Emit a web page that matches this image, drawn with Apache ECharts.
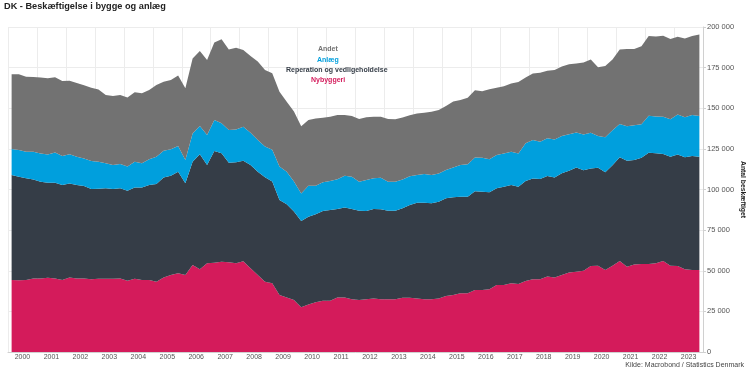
<!DOCTYPE html>
<html>
<head>
<meta charset="utf-8">
<script src="https://cdn.jsdelivr.net/npm/echarts@6/dist/echarts.min.js"></script>
<style>
  html, body { margin: 0; padding: 0; background: #fff; }
  #chart { width: 750px; height: 375px; }
</style>
</head>
<body>
<div id="chart"></div>
<script>
// år og kvartaler
const years = [2000, 2001, 2002, 2003, 2004, 2005, 2006, 2007, 2008, 2009, 2010, 2011,
  2012, 2013, 2014, 2015, 2016, 2017, 2018, 2019, 2020, 2021, 2022, 2023];
const quarterNames = ["K1", "K2", "K3", "K4"];

// beskæftigede pr. kvartal
const nybyggeri = [
  44300, 44100, 44300, 45300, 45300, 45700, 45300, 44300, 45900, 45300, 45300, 44700,
  45100, 45100, 45100, 45300, 43900, 45100, 44300, 44300, 43300, 45900, 47400, 48400,
  47400, 53500, 50900, 54600, 55000, 55600, 55200, 54600, 55800, 51500, 47400, 43300,
  42300, 35100, 33600, 32000, 27500, 29300, 30600, 31600, 31600, 33600, 33600, 32400,
  32000, 32400, 33000, 32400, 32400, 32400, 33400, 33400, 33000, 32400, 32400, 33000,
  34500, 35100, 36100, 36100, 38100, 38100, 38600, 41200, 41200, 42300, 41800, 43700,
  44700, 44700, 46400, 45900, 47400, 49000, 49400, 50000, 52900, 53100, 50500, 53100,
  56000, 52500, 53900, 54100, 54100, 54600, 56000, 53100, 52900, 50900, 50500, 50500
];
const reparation = [
  64600, 63800, 62600, 60900, 59500, 58500, 58900, 58500, 57800, 57400, 56800, 55600,
  55400, 55600, 55200, 55400, 55400, 56200, 57000, 58500, 60100, 61500, 61100, 62600,
  56400, 63600, 70800, 60500, 68700, 66700, 61300, 62100, 61900, 63600, 63600, 64200,
  62600, 58500, 57400, 54400, 53100, 53900, 54100, 55200, 55800, 54400, 55400, 55600,
  55000, 54400, 55000, 55400, 54600, 54600, 55000, 57000, 58900, 59500, 59100, 59500,
  60100, 60100, 59500, 59500, 60900, 60500, 59700, 59500, 60500, 60500, 59900, 61500,
  62100, 61700, 61900, 61500, 62600, 62600, 64200, 61900, 60100, 60300, 60100, 61900,
  63800, 65200, 64200, 65400, 68500, 67700, 65800, 67100, 68700, 68900, 70100, 69700
];
const anlaeg = [
  16000, 16400, 16400, 17000, 17400, 17400, 18500, 17800, 18000, 17400, 17000, 17200,
  16600, 15400, 14800, 15000, 14800, 15800, 14800, 15800, 16800, 16400, 16200, 15800,
  14400, 17400, 17400, 18500, 19100, 18500, 20100, 20300, 20900, 19900, 19500, 18900,
  19500, 20500, 19900, 18500, 17000, 19100, 17600, 17600, 17800, 18300, 19500, 19900,
  17800, 19100, 18900, 19500, 17800, 17800, 17800, 17800, 17000, 17600, 17400, 17400,
  17400, 18300, 19500, 19900, 20700, 20900, 20300, 20500, 20500, 20500, 20500, 23200,
  23600, 23000, 23200, 23400, 23000, 22400, 21500, 21900, 21900, 19500, 21500, 21500,
  20500, 21300, 21500, 20700, 22800, 22600, 23000, 23000, 24600, 24600, 25200, 25000
];
const andet = [
  46100, 46600, 46100, 46100, 46800, 46800, 46400, 46100, 45300, 45500, 45100, 45100,
  44500, 42000, 42500, 42500, 42500, 42700, 43100, 42700, 44100, 42500, 42700, 43300,
  44100, 46100, 46100, 46100, 47600, 51700, 49600, 50200, 47200, 47200, 48200, 47200,
  47200, 46100, 43100, 43100, 41400, 40400, 41400, 39800, 39600, 39600, 37300, 37300,
  38600, 38600, 37900, 37500, 38600, 38400, 38100, 37500, 37900, 37700, 39000, 39000,
  39400, 40600, 40000, 41000, 41400, 41000, 43100, 41400, 41400, 42000, 43900, 40600,
  41000, 42500, 41600, 42700, 42700, 43100, 42500, 44300, 45100, 42300, 43900, 43500,
  45900, 47400, 46800, 48000, 49000, 49200, 49800, 49400, 47800, 48600, 48600, 50200
];

const quarters = years.flatMap((y) => quarterNames.map((q) => y + " " + q));

const FONT = "Liberation Sans, Arial, sans-serif";
const colors = {
  nybyggeri: "#d41b5b",
  reparation: "#353d47",
  anlaeg: "#009fdd",
  andet: "#727272",
};

// tusindtalsseparator med mellemrum
function fmt(v) {
  return String(v).replace(/\B(?=(\d{3})+(?!\d))/g, " ");
}

function areaSeries(name, data, color) {
  return {
    name: name,
    type: "line",
    stack: "total",
    data: data,
    showSymbol: false,
    symbol: "none",
    lineStyle: { width: 0 },
    areaStyle: { color: color, opacity: 1 },
    itemStyle: { color: color },
    emphasis: { disabled: true },
  };
}

function legendItem(name, color, left, top) {
  return {
    data: [name],
    left: left,
    top: top,
    padding: 0,
    icon: "none",
    itemWidth: 0,
    itemHeight: 7,
    textStyle: { color: color, fontSize: 7, fontWeight: "bold", fontFamily: FONT },
  };
}

const chart = echarts.init(document.getElementById("chart"), null, { renderer: "canvas" });

const option = {
  backgroundColor: "#fff",
  animation: false,
  title: [
    {
      text: "DK - Beskæftigelse i bygge og anlæg",
      left: 4,
      top: 2,
      padding: 0,
      textStyle: { fontSize: 9.2, fontWeight: "bold", color: "#222", fontFamily: FONT },
    },
    {
      text: "Kilde: Macrobond / Statistics Denmark",
      right: 6,
      top: 362,
      padding: 0,
      textStyle: { fontSize: 7, fontWeight: "normal", color: "#444", fontFamily: FONT },
    },
  ],
  legend: [
    legendItem("Andet", colors.andet, 313, 46),
    legendItem("Anlæg", colors.anlaeg, 312, 57),
    legendItem("Reperation og vedligeholdelse", colors.reparation, 281, 67),
    legendItem("Nybyggeri", colors.nybyggeri, 306, 77),
  ],
  tooltip: { trigger: "axis" },
  grid: { left: 8, right: 47, top: 27, bottom: 23, outerBoundsMode: "none", containLabel: false },
  xAxis: [
    {
      type: "category",
      data: quarters,
      boundaryGap: true,
      position: "bottom",
      axisLine: { show: true, lineStyle: { color: "#d0d0d0", width: 1 } },
      axisTick: { show: false },
      axisLabel: { show: false },
      splitLine: { show: true, interval: 3, lineStyle: { color: "#ececec", width: 1 } },
    },
    {
      type: "category",
      data: years,
      boundaryGap: true,
      position: "bottom",
      axisLine: { show: false },
      axisTick: { show: false },
      splitLine: { show: false },
      axisLabel: { margin: 2, fontSize: 7, color: "#555", fontFamily: FONT, interval: 0 },
    },
  ],
  yAxis: {
    type: "value",
    position: "right",
    min: 0,
    max: 200000,
    interval: 25000,
    name: "Antal beskæftiget",
    nameLocation: "middle",
    nameRotate: -90,
    nameGap: 36,
    nameMoveOverlap: false,
    nameTextStyle: { fontSize: 6.8, color: "#222", fontWeight: "bold", fontFamily: FONT },
    axisLine: { show: true, lineStyle: { color: "#d0d0d0" } },
    axisTick: { show: true, length: 3, lineStyle: { color: "#d0d0d0" } },
    axisLabel: { margin: 4, fontSize: 7.5, color: "#555", fontFamily: FONT, formatter: fmt },
    splitLine: { show: true, lineStyle: { color: "#ececec" } },
  },
  series: [
    areaSeries("Nybyggeri", nybyggeri, colors.nybyggeri),
    areaSeries("Reperation og vedligeholdelse", reparation, colors.reparation),
    areaSeries("Anlæg", anlaeg, colors.anlaeg),
    areaSeries("Andet", andet, colors.andet),
  ],
};

chart.setOption(option);
</script>
</body>
</html>
